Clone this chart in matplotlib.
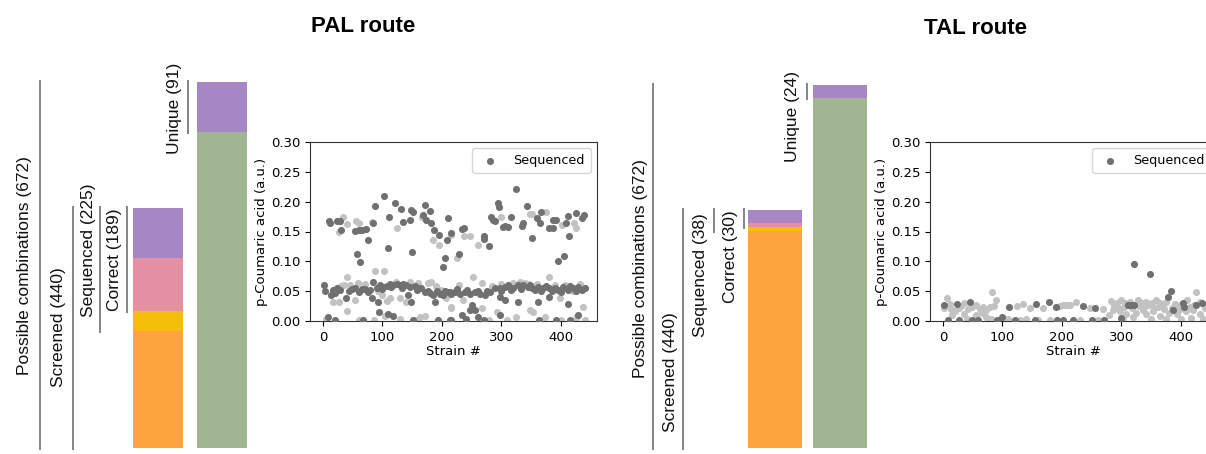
import matplotlib
matplotlib.use("Agg")
import matplotlib.pyplot as plt

# ---------------- data ----------------
# funnel counts
pal_counts = {"possible": 672, "screened": 440, "sequenced": 225, "correct": 189, "unique": 91}
tal_counts = {"possible": 672, "screened": 440, "sequenced": 38, "correct": 30, "unique": 24}

pal_labels = ["Possible combinations (672)", "Screened (440)", "Sequenced (225)", "Correct (189)", "Unique (91)"]
tal_labels = ["Possible combinations (672)", "Screened (440)", "Sequenced (38)", "Correct (30)", "Unique (24)"]

# scatter: PAL route, sequenced (dark) strains
pal_seq_x = [10, 12, 23, 29, 31, 54, 60, 66, 72, 57, 62, 76, 84, 87, 102, 111, 109, 121, 131, 135,
             146, 148, 152, 149, 171, 168, 173, 180, 182, 187, 195, 202, 205, 208, 210, 216,
             229, 233, 238, 270, 271, 279, 283, 286, 289, 295, 296, 303, 306, 311, 317, 325, 334,
             336, 344, 352, 360, 365, 367, 381, 387, 387, 392, 395, 405, 408, 414, 412, 425, 435, 439,
             1, 4, 13, 17, 23, 29, 38, 48, 54, 65, 71, 76, 82, 84, 90, 96, 101, 107, 112, 118, 124,
             129, 135, 140, 146, 93, 143, 148, 154, 160, 165, 171, 180, 185, 188, 197, 202, 205, 210, 216,
             8, 20, 68, 94, 110, 117, 152, 194, 213,
             213, 222, 230, 239, 247, 255, 264, 272, 281, 289, 297, 306, 311, 320, 328, 337, 345, 351,
             356, 362, 370, 381, 390, 395, 404, 412, 421, 429, 435,
             226, 243, 260, 276, 300, 316, 333, 348, 366, 375, 386, 400, 416, 425, 440,
             250, 255, 247, 261, 297, 306, 297, 328, 362, 381, 412, 415, 429, 233, 216, 392, 364, 270, 240,
             20, 44, 60, 79, 99, 115, 133, 158, 176, 192]
pal_seq_y = [0.167, 0.165, 0.167, 0.167, 0.152, 0.151, 0.152, 0.153, 0.155, 0.112, 0.099, 0.136, 0.164,
             0.193, 0.210, 0.174, 0.123, 0.197, 0.188, 0.166, 0.169, 0.186, 0.183, 0.115, 0.195, 0.177,
             0.169, 0.185, 0.164, 0.152, 0.144, 0.091, 0.106, 0.136, 0.172, 0.147,
             0.113, 0.155, 0.156, 0.143, 0.138, 0.125, 0.175, 0.170, 0.168, 0.197, 0.191, 0.157, 0.160,
             0.158, 0.175, 0.222, 0.160, 0.165, 0.193, 0.139, 0.173, 0.165, 0.182, 0.156, 0.156, 0.169,
             0.169, 0.100, 0.109, 0.164, 0.142, 0.176, 0.181, 0.173, 0.177,
             0.061, 0.050, 0.043, 0.052, 0.055, 0.052, 0.038, 0.053, 0.055, 0.054, 0.054, 0.049, 0.038,
             0.066, 0.055, 0.061, 0.057, 0.059, 0.062, 0.060, 0.062, 0.060, 0.062, 0.060, 0.057, 0.032,
             0.043, 0.032, 0.058, 0.055, 0.055, 0.049, 0.047, 0.043, 0.032, 0.046, 0.043, 0.050, 0.048, 0.046,
             0.007, 0.001, 0.001, 0.015, 0.012, 0.009, 0.001, 0.001, 0.001,
             0.049, 0.049, 0.046, 0.049, 0.046, 0.049, 0.046, 0.043, 0.049, 0.055, 0.055, 0.057, 0.060,
             0.055, 0.060, 0.060, 0.057, 0.055, 0.052, 0.057, 0.055, 0.055, 0.055, 0.052, 0.057, 0.052,
             0.055, 0.057, 0.052,
             0.053, 0.052, 0.051, 0.050, 0.050, 0.052, 0.053, 0.060, 0.050, 0.058, 0.051, 0.049, 0.058, 0.050, 0.056,
             0.027, 0.018, 0.018, 0.007, 0.041, 0.035, 0.010, 0.032, 0.032, 0.041, 0.029, 0.001, 0.010,
             0.010, 0.001, 0.001, 0.001, 0.001, 0.003,
             0.047, 0.050, 0.048, 0.052, 0.054, 0.057, 0.055, 0.052, 0.051, 0.050]

# scatter: PAL route, other screened (light) strains
pal_all_x = [33, 41, 26, 55, 61, 82, 125, 166, 185, 195, 238, 248, 261, 300, 348, 352, 376, 402, 422, 426,
             226, 216,
             17, 26, 41, 36, 54, 58, 87, 103, 99, 107, 113, 129, 122, 140, 146, 177, 182, 199, 216, 207,
             253, 267, 216, 236, 267, 331, 339, 380, 398, 407, 437, 348, 354, 373, 325, 292, 30, 45, 70,
             92, 160, 190, 228, 285, 300, 320, 345, 360, 390, 420, 432,
             40, 85, 104, 130, 163, 171, 157, 5, 60, 280, 310, 400, 440, 425]
pal_all_y = [0.175, 0.162, 0.150, 0.168, 0.164, 0.166, 0.156, 0.175, 0.136, 0.128, 0.142, 0.143, 0.127,
             0.175, 0.180, 0.180, 0.182, 0.161, 0.165, 0.156, 0.106, 0.144,
             0.032, 0.032, 0.074, 0.060, 0.035, 0.063, 0.083, 0.083, 0.044, 0.034, 0.038, 0.038, 0.065,
             0.032, 0.066, 0.063, 0.066, 0.052, 0.023, 0.038, 0.074, 0.063, 0.021, 0.035, 0.021, 0.066,
             0.063, 0.074, 0.038, 0.060, 0.024, 0.018, 0.015, 0.007, 0.007, 0.015, 0.058, 0.061, 0.062,
             0.050, 0.063, 0.058, 0.060, 0.058, 0.062, 0.063, 0.062, 0.062, 0.060, 0.050, 0.062,
             0.017, 0.001, 0.009, 0.003, 0.006, 0.009, 0.001, 0.003, 0.002, 0.001, 0.002, 0.002, 0.001, 0.005]

# scatter: TAL route
tal_seq_x = [1, 23, 45, 111, 157, 179, 190, 100, 235, 255, 300, 311, 316, 321, 321, 348, 383, 379, 387,
             404, 405, 426, 435, 9, 26, 48, 59, 90, 121, 155, 191, 202, 219, 250, 270]
tal_seq_y = [0.026, 0.028, 0.032, 0.023, 0.028, 0.032, 0.023, 0.006, 0.025, 0.021, 0.005, 0.026, 0.026,
             0.026, 0.095, 0.078, 0.051, 0.040, 0.018, 0.030, 0.023, 0.026, 0.030, 0.001, 0.001, 0.001,
             0.001, 0.001, 0.001, 0.001, 0.001, 0.001, 0.001, 0.001, 0.001]
tal_all_x = [6, 2, 12, 14, 20, 26, 31, 36, 42, 49, 56, 62, 67, 73, 79, 85, 89, 83, 73, 124, 135, 146, 168,
             202, 210, 15, 35, 55, 65, 40, 80,
             197, 205, 213, 223, 247, 269, 283, 292, 300, 306, 314, 328, 334, 342, 351, 359, 365, 376,
             390, 402, 410, 426, 432, 437,
             286, 297, 308, 325, 337, 342, 353, 365, 381, 393, 409, 420, 432,
             288, 295, 305, 318, 330, 338, 345, 355, 362, 370, 372, 385, 395, 398, 415, 422, 440, 280,
             303, 320, 350, 375, 400, 418, 438,
             100, 130, 160, 180, 230, 260, 140, 110]
tal_all_y = [0.038, 0.021, 0.028, 0.020, 0.017, 0.022, 0.025, 0.031, 0.020, 0.023, 0.026, 0.020, 0.023,
             0.018, 0.023, 0.025, 0.036, 0.048, 0.007, 0.025, 0.028, 0.021, 0.021, 0.026, 0.026, 0.010,
             0.012, 0.010, 0.014, 0.004, 0.003,
             0.025, 0.026, 0.027, 0.032, 0.021, 0.020, 0.034, 0.030, 0.035, 0.031, 0.032, 0.035, 0.030,
             0.032, 0.030, 0.035, 0.030, 0.032, 0.028, 0.029, 0.035, 0.048, 0.032, 0.029,
             0.018, 0.016, 0.011, 0.013, 0.018, 0.011, 0.016, 0.008, 0.013, 0.011, 0.016, 0.018, 0.012,
             0.025, 0.022, 0.024, 0.021, 0.025, 0.023, 0.026, 0.022, 0.024, 0.026, 0.020, 0.022, 0.025,
             0.020, 0.024, 0.027, 0.022, 0.010, 0.004, 0.006, 0.003, 0.004, 0.003, 0.005, 0.004,
             0.001, 0.001, 0.001, 0.002, 0.001, 0.002, 0.004, 0.003]

titles = ["PAL route", "TAL route"]
x_ticks = [0, 100, 200, 300, 400]
y_ticks = [0.00, 0.05, 0.10, 0.15, 0.20, 0.25, 0.30]

# ---------------- style ----------------
W, H = 1206, 454
C_ORANGE = "#FDA43F"
C_YELLOW = "#F5BE0A"
C_PINK = "#E48FA2"
C_PURPLE = "#A687C4"
C_GREEN = "#A0B693"
C_LINE = "#707070"
C_LIGHT = "#C2C2C2"
C_DARK = "#707070"
LABEL_FONT = ["Liberation Sans", "DejaVu Sans"]

fig = plt.figure(figsize=(W / 100, H / 100), dpi=100)


def funnel(x0, counts, labels, bar_w, bar_c, line_x, text_pos, top_px):
    # axes: x in pixels relative to panel, y in counts
    bottom_px = 448
    ax = fig.add_axes([x0 / W, (H - bottom_px) / H, 260 / W, (bottom_px - top_px) / H])
    ax.set_xlim(0, 260)
    ax.set_ylim(0, counts["possible"])
    ax.axis("off")
    scr, seq, cor, uni, pos = (counts["screened"], counts["sequenced"], counts["correct"],
                               counts["unique"], counts["possible"])
    # left stacked bar (screened)
    segs = [(scr - seq, C_ORANGE), (seq - cor, C_YELLOW), (cor - uni, C_PINK), (uni, C_PURPLE)]
    b = 0
    for h, c in segs:
        ax.bar(bar_c[0], h, bottom=b, width=bar_w, color=c, edgecolor="none")
        b += h
    # right stacked bar (possible)
    ax.bar(bar_c[1], pos - uni, bottom=0, width=bar_w, color=C_GREEN, edgecolor="none")
    ax.bar(bar_c[1], uni, bottom=pos - uni, width=bar_w, color=C_PURPLE, edgecolor="none")
    # brackets
    spans = [(0, pos), (0, scr), (scr - seq, scr), (scr - cor, scr), (pos - uni, pos)]
    ext = 4
    for lx, (lo, hi) in zip(line_x, spans):
        ax.plot([lx, lx], [lo - ext, hi + ext], color=C_LINE, lw=1.2, clip_on=False,
                solid_capstyle="butt")
    for lab, (tx, ty) in zip(labels, text_pos):
        fig.text((x0 + tx) / W, 1 - ty / H, lab, rotation=90, ha="center", va="center",
                 fontsize=12.5, family=LABEL_FONT, color="#111111")


funnel(0, pal_counts, pal_labels, 50, (158, 222), (40, 73, 100, 127, 188),
       [(25, 266), (58, 327), (88, 250), (115, 260), (174, 108)], 82)
funnel(620, tal_counts, tal_labels, 54, (155, 220), (33, 63, 94, 124, 187),
       [(21, 269), (50, 372), (80, 275), (110, 257), (172, 116)], 85)


def scatter_panel(left_px, ax_x, ax_y, sx, sy):
    ax = fig.add_axes([left_px / W, (H - 321) / H, 287 / W, 179 / H])
    ax.scatter(ax_x, ax_y, s=26, color=C_LIGHT, linewidths=0, zorder=2)
    ax.scatter(sx, sy, s=26, color=C_DARK, linewidths=0, zorder=3, label="Sequenced")
    ax.set_xlim(-22, 461)
    ax.set_ylim(0, 0.30)
    ax.set_xticks(x_ticks)
    ax.set_yticks(y_ticks)
    ax.set_yticklabels([f"{v:.2f}" for v in y_ticks])
    ax.tick_params(labelsize=9.5, length=3.5, width=0.8)
    ax.set_xlabel("Strain #", fontsize=9.5, labelpad=1)
    ax.set_ylabel("p-Coumaric acid (a.u.)", fontsize=9.5, labelpad=2)
    ax.legend(loc="upper right", fontsize=9.2, handletextpad=0.8, borderpad=0.45)
    for s in ax.spines.values():
        s.set_linewidth(0.8)
        s.set_color("#333333")
    return ax


scatter_panel(310, pal_all_x, pal_all_y, pal_seq_x, pal_seq_y)
scatter_panel(930, tal_all_x, tal_all_y, tal_seq_x, tal_seq_y)

fig.text(363 / W, 1 - 26 / H, titles[0], ha="center", va="center", fontsize=16,
         fontweight="bold", family=LABEL_FONT)
fig.text(975 / W, 1 - 28 / H, titles[1], ha="center", va="center", fontsize=16,
         fontweight="bold", family=LABEL_FONT)

fig.savefig("out.png", dpi=100)
